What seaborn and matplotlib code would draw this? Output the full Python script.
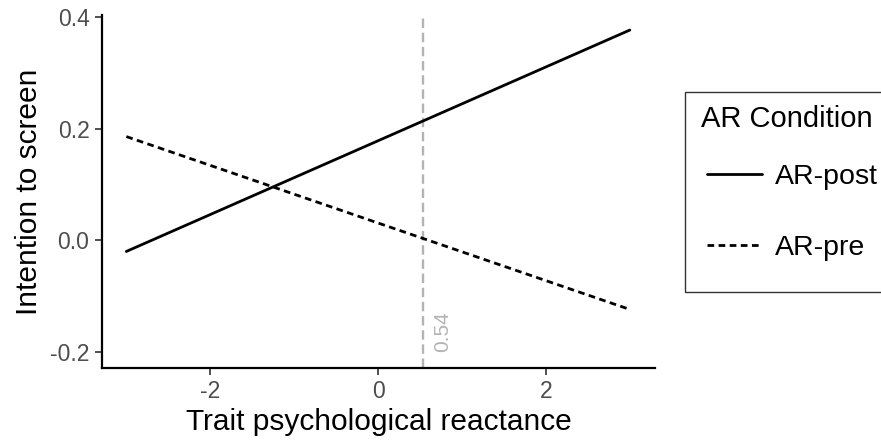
import numpy as np
import pandas as pd
import matplotlib
matplotlib.use("Agg")
import matplotlib.pyplot as plt
from matplotlib.patches import Rectangle
from matplotlib.lines import Line2D
import seaborn as sns

# Data
reactance = [-3, 3]
ar_post = [-0.020, 0.377]
ar_pre = [0.186, -0.124]
conditions = ["AR-post", "AR-pre"]
legend_title = "AR Condition"
vline_x = 0.54
xticks = [-2, 0, 2]
yticks = [-0.2, 0.0, 0.2, 0.4]
ytick_labels = ["-0.2", "0.0", "0.2", "0.4"]

df = pd.DataFrame({
    "x": reactance * 2,
    "y": ar_post + ar_pre,
    "cond": [conditions[0]] * 2 + [conditions[1]] * 2,
})

sns.set_theme(style="white")
plt.rcParams["font.family"] = ["Liberation Sans", "DejaVu Sans"]
plt.rcParams["text.color"] = "black"

W, H = 881, 443
fig = plt.figure(figsize=(W / 100, H / 100), dpi=100)
ax = fig.add_axes([102 / W, 1 - 368 / H, (655 - 102) / W, (368 - 15) / H])

LW = 2.0
sns.lineplot(data=df, x="x", y="y", style="cond", style_order=conditions,
             dashes={"AR-post": "", "AR-pre": (2.4, 1.6)}, color="black",
             linewidth=LW, ax=ax, legend=False)

ax.axvline(vline_x, color="#b3b3b3", linestyle=(0, (4, 2)), linewidth=1.7, zorder=0)
ax.text(vline_x + 0.11, -0.2, f"{vline_x:.2f}", rotation=90, color="#b3b3b3",
        fontsize=15, ha="left", va="bottom")

ax.set_xlim(-3.29, 3.30)
ax.set_ylim(-0.229, 0.404)
ax.set_xticks(xticks)
ax.set_xticklabels([str(t) for t in xticks])
ax.set_yticks(yticks)
ax.set_yticklabels(ytick_labels)

for s in ["top", "right"]:
    ax.spines[s].set_visible(False)
for s in ["left", "bottom"]:
    ax.spines[s].set_color("black")
    ax.spines[s].set_linewidth(1.6)
ax.tick_params(axis="both", which="both", direction="out", length=5, width=1.2,
               color="#333333", labelsize=16.5, labelcolor="#4d4d4d", pad=4,
               bottom=True, left=True)
ax.set_xlabel("Trait psychological reactance", fontsize=21.5, color="black", labelpad=3)
ax.set_ylabel("Intention to screen", fontsize=21.5, color="black", labelpad=5)

# Legend box (extends past the right edge, as in the reference)
rect = Rectangle((685 / W, 1 - 292 / H), (W + 20 - 685) / W, (292 - 92) / H,
                 transform=fig.transFigure, fill=False, edgecolor="#333333",
                 linewidth=1.0, clip_on=False)
fig.patches.append(rect)
fig.text(701 / W, 1 - 119 / H, legend_title, fontsize=21, color="black",
         ha="left", va="center")
handles = [Line2D([], [], color="black", linewidth=LW, linestyle="-"),
           Line2D([], [], color="black", linewidth=LW, linestyle=(0, (2.4, 1.6)))]
leg = fig.legend(handles, conditions, loc="upper left",
                 bbox_to_anchor=(707 / W, 1 - 164 / H), frameon=False,
                 fontsize=20.5, handlelength=1.93,
                 handletextpad=0.46, labelspacing=1.57, borderaxespad=0,
                 borderpad=0, labelcolor="black")

fig.savefig("out.png", dpi=100)
